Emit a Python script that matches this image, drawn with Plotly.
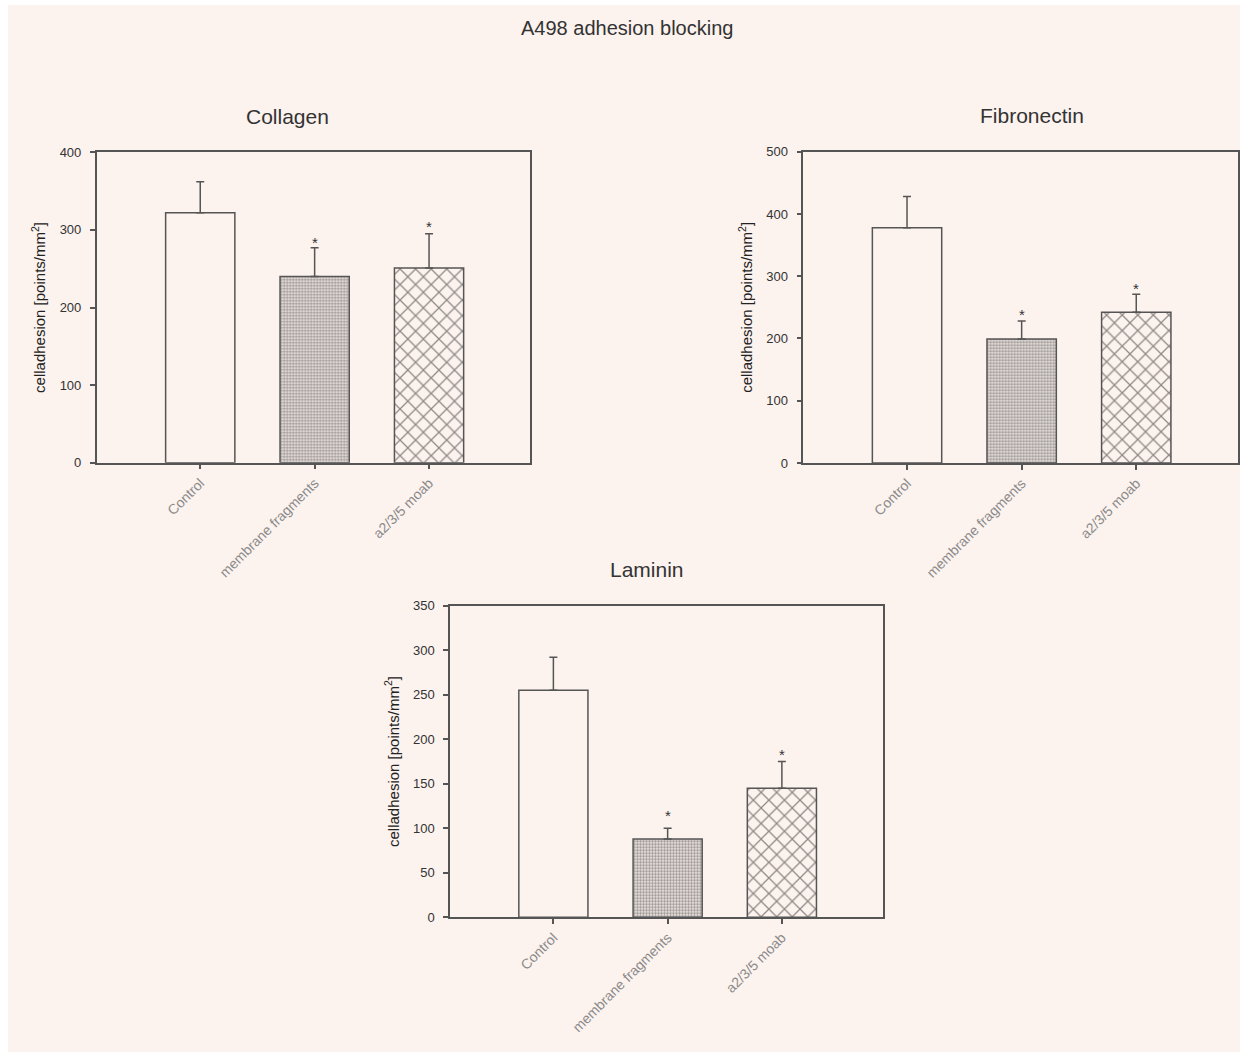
import plotly.graph_objects as go

# ---------------- data ----------------
categories = ["Control", "membrane fragments", "a2/3/5 moab"]

collagen_values = [322, 240, 251]
collagen_errors = [40, 37, 44]
collagen_star_y = [None, 289, 309]

fibronectin_values = [378, 199, 242]
fibronectin_errors = [50, 29, 29]
fibronectin_star_y = [None, 245, 287]

laminin_values = [255, 88, 145]
laminin_errors = [37, 12, 30]
laminin_star_y = [None, 119, 187]

collagen_ticks = [0, 100, 200, 300, 400]
fibronectin_ticks = [0, 100, 200, 300, 400, 500]
laminin_ticks = [0, 50, 100, 150, 200, 250, 300, 350]

panel_titles = ["Collagen", "Fibronectin", "Laminin"]
main_title = "A498 adhesion blocking"
y_title = "celladhesion [points/mm<sup>2</sup>]"

# ---------------- styling ----------------
W, H = 1247, 1057
BG = "#fcf2ee"
LINE = "#555555"
FONT = "Liberation Sans"

def px_dom_x(a, b):
    return [a / W, b / W]

def px_dom_y(top, bottom):
    return [1 - bottom / H, 1 - top / H]

panels = [
    dict(name="Collagen", vals=collagen_values, errs=collagen_errors, stars=collagen_star_y,
         ticks=collagen_ticks, xd=px_dom_x(96.7, 530.3), yd=px_dom_y(152.3, 462.7), ax=""),
    dict(name="Fibronectin", vals=fibronectin_values, errs=fibronectin_errors, stars=fibronectin_star_y,
         ticks=fibronectin_ticks, xd=px_dom_x(803.3, 1237.7), yd=px_dom_y(151.7, 463.0), ax="2"),
    dict(name="Laminin", vals=laminin_values, errs=laminin_errors, stars=laminin_star_y,
         ticks=laminin_ticks, xd=px_dom_x(450.0, 883.0), yd=px_dom_y(605.7, 917.3), ax="3"),
]

patterns = [
    dict(shape=""),
    dict(shape=".", size=3, solidity=0.6, fgcolor="#3a3a3a", bgcolor=BG, fillmode="overlay"),
    dict(shape="x", size=11, solidity=0.22, fgcolor="#222222", bgcolor=BG, fillmode="overlay"),
]

fig = go.Figure()
annotations = []
layout_axes = {}

for p in panels:
    xa = "x" + p["ax"]
    ya = "y" + p["ax"]
    for i, cat in enumerate(categories):
        fig.add_trace(go.Bar(
            x=[cat], y=[p["vals"][i]], xaxis=xa, yaxis=ya,
            width=0.605,
            marker=dict(color=BG, line=dict(color=LINE, width=1.5), pattern=patterns[i]),
            error_y=dict(type="data", array=[p["errs"][i]],
                         arrayminus=[0], symmetric=False,
                         color=LINE, thickness=1.5, width=4),
            showlegend=False, hoverinfo="skip",
        ))
        if p["stars"][i] is not None:
            annotations.append(dict(
                x=cat, y=p["stars"][i], xref=xa, yref=ya, text="*", showarrow=False,
                font=dict(family=FONT, size=15, color="#333333"), yanchor="middle", yshift=-4,
            ))
    ymax = p["ticks"][-1]
    layout_axes["xaxis" + p["ax"]] = dict(
        domain=p["xd"], anchor=ya, type="category", range=[-0.905, 2.885],
        showline=True, linecolor=LINE, linewidth=1.5, mirror=True,
        ticks="outside", ticklen=5, tickcolor=LINE, tickwidth=1.5,
        tickangle=-45, tickfont=dict(family=FONT, size=14, color="#8a8a8a"),
        showgrid=False, zeroline=False, automargin=False,
    )
    layout_axes["yaxis" + p["ax"]] = dict(
        domain=p["yd"], anchor=xa, range=[0, ymax],
        tickvals=p["ticks"], ticktext=[str(t) for t in p["ticks"]],
        showline=True, linecolor=LINE, linewidth=1.5, mirror=True,
        ticks="outside", ticklen=5, tickcolor=LINE, tickwidth=1.5,
        tickfont=dict(family=FONT, size=13, color="#333333"), ticklabelstandoff=6,
        showgrid=False, zeroline=False, automargin=False,
        title=dict(text=y_title, font=dict(family=FONT, size=15, color="#222222"), standoff=10),
    )

# panel titles
title_pos = [(287, 117), (1032, 115), (647, 569)]
for t, (tx, ty) in zip(panel_titles, title_pos):
    annotations.append(dict(
        x=tx / W, y=1 - ty / H, xref="paper", yref="paper", text=t, showarrow=False,
        font=dict(family=FONT, size=21, color="#333333"), xanchor="center", yanchor="middle",
    ))
annotations.append(dict(
    x=627 / W, y=1 - 28 / H, xref="paper", yref="paper", text=main_title, showarrow=False,
    font=dict(family=FONT, size=20, color="#333333"), xanchor="center", yanchor="middle",
))

fig.update_layout(
    width=W, height=H, autosize=False,
    margin=dict(l=0, r=0, t=0, b=0, autoexpand=False),
    paper_bgcolor="white", plot_bgcolor=BG,
    barmode="overlay",
    annotations=annotations,
    shapes=[dict(type="rect", xref="paper", yref="paper", x0=8 / W, x1=1240 / W,
                 y0=1 - 1052 / H, y1=1 - 5 / H, fillcolor=BG, line=dict(width=0), layer="below")],
    **layout_axes,
)

post = (
    "document.documentElement.style.overflow='hidden';"
    "document.body.style.margin='0';document.body.style.overflow='hidden';"
    "var d=document.getElementById('{plot_id}');"
    "d.style.position='fixed';d.style.left='0px';d.style.top='0px';"
)

fig.write_html(
    "out.html",
    config={"displayModeBar": False},
    post_script=post,
)
